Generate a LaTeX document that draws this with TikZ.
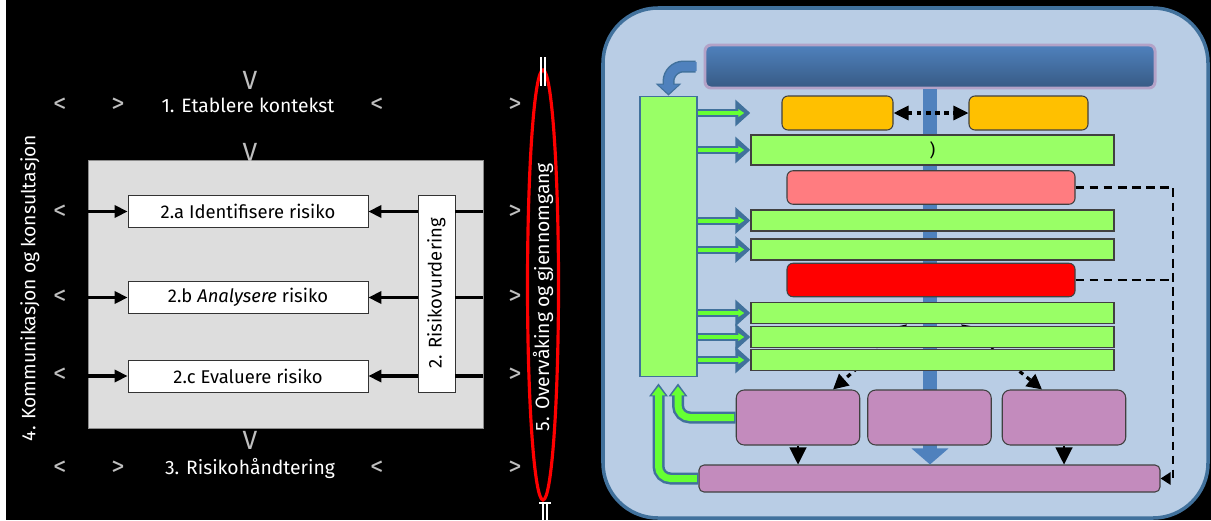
\documentclass[tikz,border=0pt]{standalone}
\usepackage{fontspec}
\setmainfont{Fira Sans}
\usepackage{graphicx}
\usetikzlibrary{arrows.meta,shapes.geometric,positioning}

\definecolor{framegray}{HTML}{DDDDDD}
\definecolor{panelblue}{HTML}{B9CDE5}
\definecolor{panelrim}{HTML}{41719C}
\definecolor{barblue}{HTML}{4F81BD}
\definecolor{barrim}{HTML}{B3A2C7}
\definecolor{goldfill}{HTML}{FFC000}
\definecolor{barlime}{HTML}{99FF66}
\definecolor{salmon}{HTML}{FF7C80}
\definecolor{plum}{HTML}{C38BBD}
\definecolor{brightgreen}{HTML}{66FF33}

\tikzset{
  riskframe/.style={rectangle, draw=black!45, fill=framegray, minimum width=79mm, minimum height=53.6mm},
  riskbox/.style={rectangle, draw=black!80, fill=white, minimum width=48mm, minimum height=6.4mm, font=\fontsize{10.5}{12}\selectfont},
  outtext/.style={text=white, font=\fontsize{11}{13}\selectfont},
  chevron/.style={text=black!25, font=\fontsize{15}{17}\selectfont},
  flow/.style={line width=2pt, -{Triangle[length=2.6mm,width=2.4mm]}},
  greenbar/.style={rectangle, draw=black!75, line width=0.8pt, fill=barlime, minimum width=72.6mm, minimum height=4.2mm, inner sep=0pt},
  softbox/.style={rectangle, rounded corners=1.2mm, draw=black!75, line width=0.6pt, minimum width=57.6mm, minimum height=6.7mm},
  orangebox/.style={rectangle, rounded corners=1.2mm, draw=black!75, line width=0.6pt, fill=goldfill, minimum height=6.8mm},
  plumbox/.style={rectangle, rounded corners=1.6mm, draw=black!75, line width=0.6pt, fill=plum, minimum width=24.7mm, minimum height=11mm},
  stemline/.style={line width=2.8mm, draw=barblue, -{Triangle[length=3.2mm,width=7.2mm]}},
  dotlink/.style={line width=1.8pt, dash pattern=on 2.6pt off 2.6pt},
  dashlink/.style={line width=1.6pt, dash pattern=on 5pt off 3pt},
  pushout/.style={line width=1.6mm, draw=panelrim, -{Triangle[length=3mm,width=5.2mm]}},
  pushin/.style={line width=0.8mm, draw=brightgreen, shorten >=1.2mm, -{Triangle[length=1.2mm,width=1.5mm]}},
  bendout/.style={line width=2.4mm, draw=panelrim, rounded corners=3mm, -{Triangle[length=2.4mm,width=5mm]}},
  bendin/.style={line width=1.8mm, draw=barblue, rounded corners=3mm, shorten >=0.4mm, -{Triangle[length=1.8mm,width=4mm]}},
  riseout/.style={line width=2.4mm, draw=panelrim, rounded corners=2.4mm, shorten >=1.2mm, -{Triangle[length=2.6mm,width=3.6mm]}},
  risein/.style={line width=1.4mm, draw=brightgreen, rounded corners=2.4mm, shorten >=1.8mm, -{Triangle[length=1.8mm,width=2.6mm]}}
}

\begin{document}
\begin{tikzpicture}[x=0.2mm, y=-0.2mm]
  \useasboundingbox (0,0) rectangle (1211,520);
  \fill[black] (0,0) rectangle (1211,520);
  \fill[white] (0,0) rectangle (6,520);

  % Risk assessment frame
  \node[riskframe] (frame) at (285.5,294) {};
  \node[riskbox] (ident) at (248,211.5) {2.a Identifisere risiko};
  \node[riskbox] (analy) at (248,297.5) {2.b \textit{Analysere} risiko};
  \node[riskbox] (evalu) at (248,376) {2.c Evaluere risiko};
  \node[riskbox, minimum width=7.4mm, minimum height=39.4mm] (vurd) at (436.5,293.5) {\rotatebox{90}{2. Risikovurdering}};

  \foreach \b in {ident,analy,evalu}{
    \draw[flow] (frame.west |- \b) -- (\b.west);
    \draw[flow] (vurd.west |- \b) -- (\b.east);
    \draw[line width=2pt] (frame.east |- \b) -- (vurd.east |- \b);
  }

  % Outer steps
  \node[outtext] (estab) at (248,105) {1. Etablere kontekst};
  \node[outtext] (treat) at (250,468) {3. Risikohåndtering};
  \node[outtext, rotate=90] (komm) at (30,288) {4. Kommunikasjon og konsultasjon};
  \node[ellipse, draw=red, line width=1.8pt, minimum width=6.2mm, minimum height=86mm, inner sep=0pt] (watch) at (543,285) {};
  \node[outtext, rotate=90] (overv) at (543,297) {5. Overvåking og gjennomgang};
  \draw[white, line width=0.6pt] (541,57) -- (541,86) (545,57) -- (545,86);
  \draw[white, line width=0.6pt] (539,503) -- (551,503) (543,503) -- (543,520) (547,503) -- (547,520);

  \foreach \cx/\cy/\cg [count=\i] in {60/105/<, 118/105/>, 377/105/<, 515/105/>,
      60/212/<, 515/212/>, 60/297/<, 515/297/>, 60/375/<, 515/375/>,
      60/468/<, 118/468/>, 377/468/<, 515/468/>,
      250/80/V, 250/152/V, 250/440/V}
    \node[chevron] (chev\i) at (\cx,\cy) {\cg};

  % Right panel
  \node[rectangle, rounded corners=11mm, draw=panelrim, line width=2pt, fill=panelblue, minimum width=121mm, minimum height=102mm] (panel) at (905.5,263) {};

  \node[rectangle, rounded corners=1.2mm, draw=barrim, line width=1.7pt, top color=barblue, middle color=barblue, bottom color=barblue!70!black, minimum width=90mm, minimum height=8.6mm] (topbar) at (930,66.5) {};
  \node[plumbox, minimum width=92.2mm, minimum height=5.4mm, rounded corners=1mm] (botbar) at (929.5,478.5) {};

  % Stem
  \draw[stemline] (topbar.south) -- (topbar.south |- botbar.north);

  % Orange pair
  \node[orangebox, minimum width=22.2mm] (orgl) at (837.5,113) {};
  \node[orangebox, minimum width=23.8mm] (orgr) at (1028.5,113) {};
  \draw[dotlink, {Triangle[length=3mm,width=2.8mm]}-{Triangle[length=3mm,width=2.8mm]}] (orgl) -- (orgr);

  % Bars
  \node[greenbar, minimum height=6mm] (bar1) at (932.5,150) {)};
  \node[softbox, fill=salmon] (pink) at (931,187.5) {};
  \node[greenbar] (bar2) at (932.5,220.5) {};
  \node[greenbar] (bar3) at (932.5,249.5) {};
  \node[softbox, fill=red] (alert) at (931,280) {};
  \node[greenbar] (bar4) at (932.5,313) {};

  \node[plumbox] (plumA) at (798,417.5) {};
  \node[plumbox] (plumB) at (929.5,417.5) {};
  \node[plumbox] (plumC) at (1064,417.5) {};

  \draw[dotlink, {Triangle[length=2.4mm,width=2.4mm]}-{Triangle[length=3mm,width=3mm]}] ([xshift=-5.1mm]bar4.south) -- ([xshift=7mm]plumA.north);
  \draw[dotlink, {Triangle[length=2.4mm,width=2.4mm]}-{Triangle[length=3mm,width=3mm]}] ([xshift=5.7mm]bar4.south) -- ([xshift=-4.4mm]plumC.north);

  \node[greenbar] (bar5) at (932.5,337) {};
  \node[greenbar] (bar6) at (932.5,360) {};

  \draw[line width=0.6pt, -{Triangle[length=3.4mm,width=3.4mm]}] (plumA.south) -- (plumA.south |- botbar.north);
  \draw[line width=0.6pt, -{Triangle[length=3.4mm,width=3.4mm]}] (plumC.south) -- (plumC.south |- botbar.north);

  % Dashed feedback
  \coordinate (dashturn) at (1173,187.5);
  \draw[dashlink, -{Triangle[length=2mm,width=2.4mm]}] (pink.east) -- (dashturn) -- (dashturn |- botbar.east) -- (botbar.east);
  \draw[dashlink] (alert.east) -- (alert.east -| dashturn);

  % Green column and its arrows
  \node[rectangle, draw=panelrim, line width=1pt, fill=barlime, minimum width=11.4mm, minimum height=56mm] (feed) at (668.5,236.5) {};
  \draw[bendout] ([xshift=-1.6mm]topbar.west) -| (feed.north);
  \draw[bendin] ([xshift=-1.4mm]topbar.west) -| (feed.north);

  \draw[pushout] (feed.east |- orgl) -- (bar1.west |- orgl);
  \draw[pushin] (feed.east |- orgl) -- (bar1.west |- orgl);
  \foreach \t in {bar1,bar2,bar3,bar4,bar5,bar6}{
    \draw[pushout] (feed.east |- \t) -- (\t.west);
    \draw[pushin] (feed.east |- \t) -- (\t.west);
  }

  \draw[riseout] (plumA.west) -| ([xshift=1.9mm]feed.south);
  \draw[risein] ([xshift=-0.3mm]plumA.west) -| ([xshift=1.9mm]feed.south);
  \draw[riseout] (botbar.west) -| ([xshift=-2mm]feed.south);
  \draw[risein] ([xshift=-0.3mm]botbar.west) -| ([xshift=-2mm]feed.south);
\end{tikzpicture}
\end{document}
